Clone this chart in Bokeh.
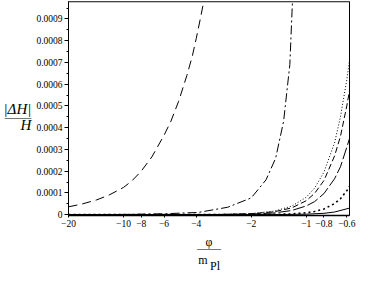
from bokeh.plotting import figure
from bokeh.models import Range1d, FixedTicker, CustomJSTickFormatter, Span
from bokeh.embed import file_html
from bokeh.resources import INLINE

# tick values
x_ticks = [-20, -10, -8, -6, -4, -2, -1, -0.8, -0.6]
y_ticks = [0, 0.0001, 0.0002, 0.0003, 0.0004, 0.0005, 0.0006, 0.0007, 0.0008, 0.0009]
y_minor = [0.00005, 0.00015, 0.00025, 0.00035, 0.00045, 0.00055, 0.00065, 0.00075, 0.00085, 0.00095]

# curve A (long dash)
phi_a = [-20, -17, -14, -12, -10, -9, -8, -7, -6, -5.5, -5, -4.5, -4.2, -4, -3.8, -3.6]
dh_a = [0.000036, 0.000048, 0.000068, 0.000090, 0.000125, 0.000155, 0.000200, 0.000265,
        0.000365, 0.00043, 0.00052, 0.00064, 0.00073, 0.00081, 0.00090, 0.00100]
# curve B (dash-dot)
phi_b = [-20, -10, -6, -3.9, -2.69, -2, -1.66, -1.47, -1.33, -1.23, -1.19, -1.17]
dh_b = [0.0, 0.000001, 0.000004, 0.00001, 0.000034, 0.000077, 0.00016, 0.00026, 0.00043,
        0.00069, 0.00098, 0.00110]
# curve C (fine dots)
phi_c = [-20, -3, -2, -1.5, -1.2, -1.0, -0.9, -0.8, -0.7, -0.65, -0.6, -0.58]
dh_c = [0.0, 0.000001, 0.000005, 0.000016, 0.000039, 0.00008, 0.000122, 0.000196, 0.00033,
        0.00045, 0.00062, 0.00071]
# curve D (dashed)
phi_d = [-20, -3, -2, -1.5, -1.2, -1.0, -0.9, -0.8, -0.7, -0.65, -0.6, -0.58]
dh_d = [0.0, 0.0000008, 0.000004, 0.000013, 0.000031, 0.000064, 0.000098, 0.000157, 0.00027,
        0.00036, 0.0005, 0.00057]
# curve E (long dashes)
phi_e = [-20, -3, -2, -1.5, -1.2, -1.0, -0.9, -0.8, -0.7, -0.65, -0.6, -0.58]
dh_e = [0.0, 0.0000005, 0.0000025, 0.0000078, 0.000019, 0.00004, 0.00006, 0.000097, 0.000165,
        0.00022, 0.00031, 0.00035]
# curve F (big dots)
phi_f = [-20, -2, -1.5, -1.2, -1.0, -0.9, -0.8, -0.7, -0.65, -0.6, -0.58]
dh_f = [0.0, 0.0000003, 0.0000011, 0.0000034, 0.0000085, 0.0000144, 0.000026, 0.000051,
        0.000073, 0.00011, 0.00013]
# curve G (solid, near zero)
phi_g = [-20, -1.5, -1.0, -0.8, -0.7, -0.58]
dh_g = [0.0, 0.0000003, 0.000002, 0.000006, 0.000012, 0.00003]

FONT = "Liberation Serif"

p = figure(width=360, height=275, x_axis_type="log",
           x_range=Range1d(20, 0.58), y_range=Range1d(-0.000004, 0.00098),
           output_backend="svg", toolbar_location=None,
           min_border_left=63, min_border_right=11, min_border_top=1, min_border_bottom=58)
p.grid.visible = False
p.outline_line_color = "black"
p.outline_line_width = 1
p.background_fill_color = "white"
p.border_fill_color = "white"

series = [
    (phi_a, dh_a, "9 5", 1.0),
    (phi_b, dh_b, "9 3 2 3", 1.0),
    (phi_c, dh_c, "1 2", 1.0),
    (phi_d, dh_d, "6 3", 1.0),
    (phi_e, dh_e, "12 3", 1.0),
    (phi_f, dh_f, "2 3", 1.6),
    (phi_g, dh_g, "solid", 1.0),
]
for ph, dh, dash, w in series:
    p.line([-v for v in ph], dh, line_color="black", line_width=w, line_dash=dash)

# top border gray
p.add_layout(Span(location=0.00098, dimension="width", line_color="#888888", line_width=2))

xa = p.xaxis[0]
xa.ticker = FixedTicker(ticks=[-v for v in x_ticks], minor_ticks=[])
xa.formatter = CustomJSTickFormatter(code="return '\u2212' + tick;")
xa.axis_line_color = "black"
xa.axis_line_width = 1.5
xa.major_tick_out = 2
xa.major_tick_in = 0
xa.major_label_standoff = 2
xa.major_label_text_font = FONT
xa.major_label_text_font_size = "9.5px"
xa.major_label_text_color = "black"
xa.axis_label = "\nφ\n——\n\nm\u2002\u2002\n\u2002\u2002Pl"
xa.axis_label_text_font = FONT
xa.axis_label_text_font_style = "normal"
xa.axis_label_text_font_size = "12px"
xa.axis_label_text_color = "black"
xa.axis_label_text_line_height = 0.4167
xa.axis_label_standoff = 0

ya = p.yaxis[0]
ya.ticker = FixedTicker(ticks=y_ticks, minor_ticks=y_minor)
ya.formatter = CustomJSTickFormatter(code="return tick == 0 ? '0' : tick.toFixed(4);")
ya.axis_line_color = "black"
ya.major_tick_out = 4
ya.major_tick_in = 0
ya.minor_tick_out = 2
ya.minor_tick_in = 0
ya.major_label_standoff = 2
ya.major_label_text_font = FONT
ya.major_label_text_font_size = "9.5px"
ya.major_label_text_color = "black"
ya.axis_label = "\n\n|ΔH|\n——\nH"
ya.axis_label_orientation = "horizontal"
ya.axis_label_text_font = FONT
ya.axis_label_text_font_style = "italic"
ya.axis_label_text_font_size = "15px"
ya.axis_label_text_color = "black"
ya.axis_label_text_line_height = 0.5
ya.axis_label_standoff = 2

open("out.html", "w").write(file_html(p, INLINE))
